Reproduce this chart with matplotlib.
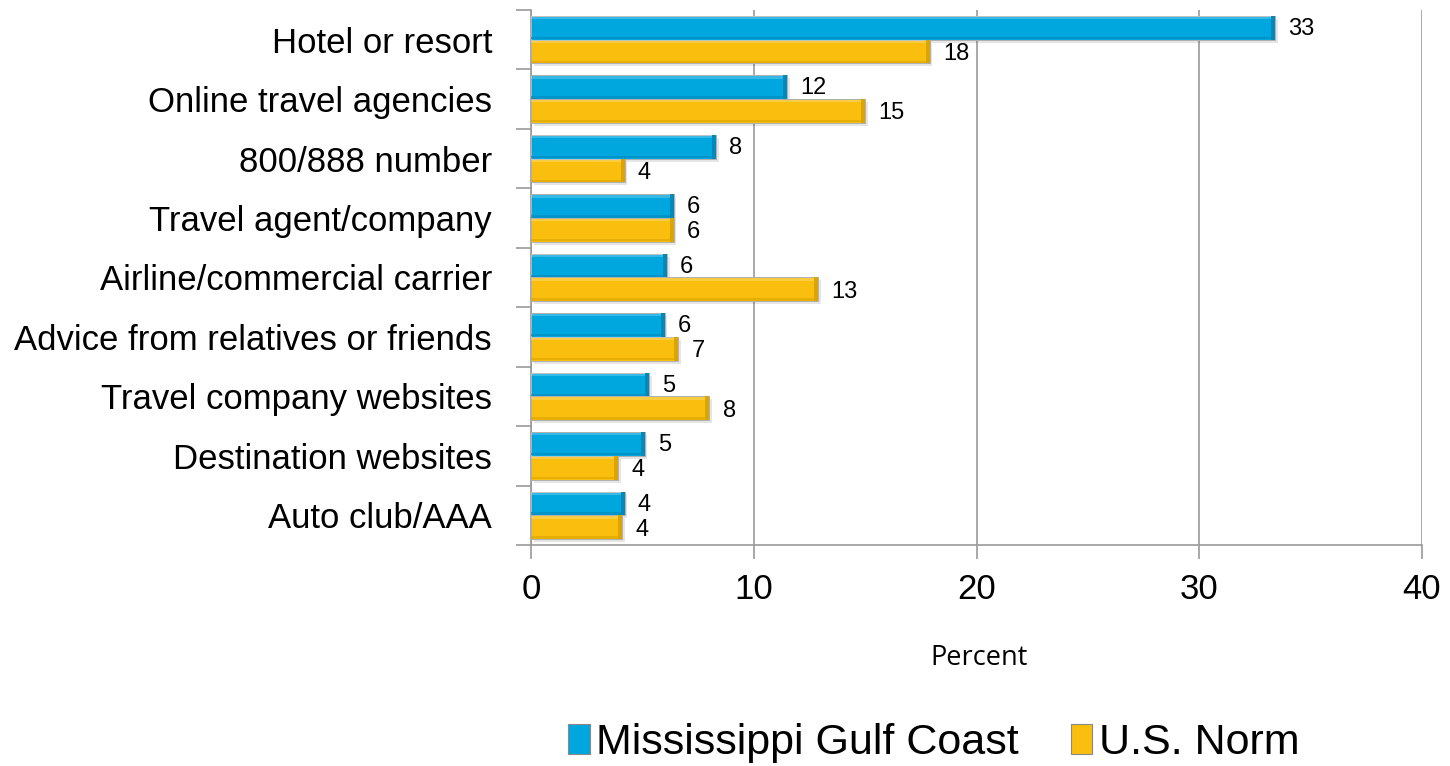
import matplotlib
matplotlib.use("Agg")
import matplotlib.pyplot as plt
import numpy as np
from matplotlib.patches import Rectangle

categories = ["Hotel or resort", "Online travel agencies", "800/888 number",
              "Travel agent/company", "Airline/commercial carrier",
              "Advice from relatives or friends", "Travel company websites",
              "Destination websites", "Auto club/AAA"]
gulf = [33.4, 11.5, 8.3, 6.4, 6.1, 6.0, 5.3, 5.1, 4.2]
norm = [17.9, 15.0, 4.2, 6.4, 12.9, 6.6, 8.0, 3.9, 4.1]
gulf_labels = ["33", "12", "8", "6", "6", "6", "5", "5", "4"]
norm_labels = ["18", "15", "4", "6", "13", "7", "8", "4", "4"]
series_names = ["Mississippi Gulf Coast", "U.S. Norm"]
xticks = [0, 10, 20, 30, 40]

BLUE = "#00A6DE"
BLUE_D = "#0089BA"
YEL = "#F9BE0E"
YEL_D = "#DCA400"
GRID = "#9A9A9A"

arial = ["Liberation Sans", "DejaVu Sans"]

fig = plt.figure(figsize=(14.5, 7.66), dpi=100)
ax = fig.add_axes([0.3662, 0.2885, 0.9807 - 0.3662, 0.987 - 0.2885])

y = np.arange(len(categories))
h = 0.4
for vals, off, c, cd in [(gulf, -h / 2, BLUE, BLUE_D), (norm, h / 2, YEL, YEL_D)]:
    # soft shadow
    ax.barh(y + off + 0.05, vals, height=h, left=0.12, color="#000000", alpha=0.10,
            zorder=2, linewidth=0)
    ax.barh(y + off, vals, height=h, color=c, edgecolor="#B0B0B0", linewidth=0.7, zorder=3)
    # bevel: lighter top strip, darker bottom strip and right end
    ax.barh(y + off - h * 0.42, vals, height=h * 0.12, color="white", alpha=0.22,
            linewidth=0, zorder=4)
    ax.barh(y + off + h * 0.43, vals, height=h * 0.10, color=cd, alpha=0.6,
            linewidth=0, zorder=4)
    ax.barh(y + off, [0.18] * len(vals), left=np.array(vals) - 0.18, height=h,
            color=cd, linewidth=0, zorder=4)

for i in range(len(categories)):
    ax.text(gulf[i] + 0.6, y[i] - h / 2 + 0.02, gulf_labels[i], va="center", ha="left",
            fontsize=17, family=arial, zorder=5)
    ax.text(norm[i] + 0.6, y[i] + h / 2 + 0.04, norm_labels[i], va="center", ha="left",
            fontsize=17, family=arial, zorder=5)

ax.set_ylim(len(categories) - 0.5, -0.5)
ax.set_xlim(0, 40)
ax.set_xticks(xticks)
ax.set_xticklabels([str(t) for t in xticks], fontsize=25, family=arial)
ax.set_yticks(y)
ax.set_yticklabels(categories, fontsize=25, family=arial)
ax.set_yticks(np.arange(len(categories) + 1) - 0.5, minor=True)
ax.tick_params(axis="y", which="major", length=0, pad=28)
ax.tick_params(axis="y", which="minor", length=11, color=GRID, width=1.2)
ax.tick_params(axis="x", which="major", length=10, color=GRID, width=1.2, pad=10)
ax.xaxis.grid(True, color=GRID, linewidth=1.2, zorder=0)
ax.set_axisbelow(True)
for s in ["top", "right"]:
    ax.spines[s].set_visible(False)
for s in ["left", "bottom"]:
    ax.spines[s].set_color(GRID)
    ax.spines[s].set_linewidth(1.2)

fig.text(979 / 1450, 1 - 658 / 766, "Percent", ha="center", va="center",
         fontsize=19.5, family=["Open Sans", "DejaVu Sans"])

handles = [Rectangle((0, 0), 1, 1, facecolor=BLUE, edgecolor="#888888", linewidth=0.8),
           Rectangle((0, 0), 1, 1, facecolor=YEL, edgecolor="#888888", linewidth=0.8)]
leg = fig.legend(handles, series_names, loc="center", bbox_to_anchor=(934 / 1450, 1 - 743 / 766),
                 ncol=2, frameon=False, prop={"family": arial, "size": 31},
                 handlelength=0.5, handleheight=0.7, handletextpad=0.15, columnspacing=1.2)

fig.savefig("out.png", dpi=100)
